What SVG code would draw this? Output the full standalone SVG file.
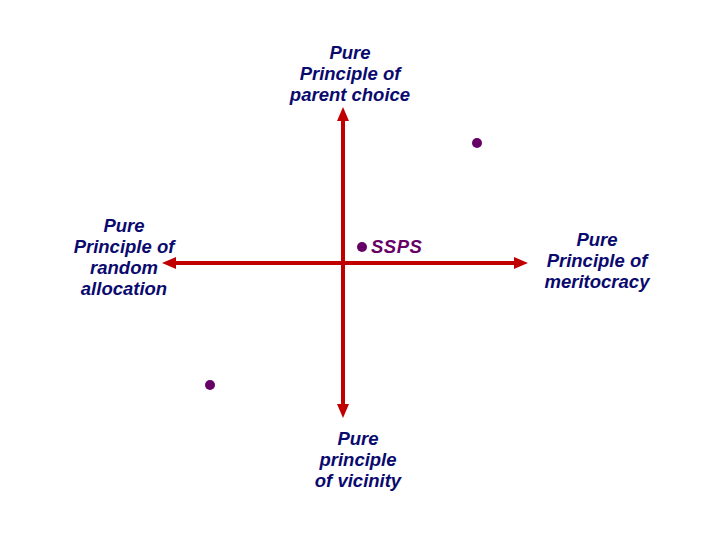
<svg xmlns="http://www.w3.org/2000/svg" width="720" height="540" viewBox="0 0 720 540">
<style>
.lbl{font-family:"Liberation Sans",Arial,sans-serif;font-size:18.5px;font-weight:bold;font-style:italic;fill:#0a0a6e;text-anchor:middle}
.ax{stroke:#c00000;stroke-width:4;fill:none}
.dot{fill:#660066}
</style>
<defs>
<marker id="ah" markerWidth="4" markerHeight="4" refX="1" refY="2" orient="auto" markerUnits="strokeWidth">
<path d="M0,0.5 L3.5,2 L0,3.5 Z" fill="#c00000"/>
</marker>
</defs>
<rect width="720" height="540" fill="#fff"/>
<g id="connectors">
<line class="ax" x1="343" y1="263" x2="343" y2="117" marker-end="url(#ah)"/>
<line class="ax" x1="343" y1="263" x2="343" y2="408" marker-end="url(#ah)"/>
<line class="ax" x1="343" y1="263" x2="518" y2="263" marker-end="url(#ah)"/>
<line class="ax" x1="343" y1="263" x2="172" y2="263" marker-end="url(#ah)"/>
</g>
<g id="top"><text class="lbl" x="350" y="59">Pure</text><text class="lbl" x="350" y="80">Principle of</text><text class="lbl" x="350" y="101">parent choice</text></g>
<g id="left"><text class="lbl" x="124" y="232">Pure</text><text class="lbl" x="124" y="253">Principle of</text><text class="lbl" x="124" y="274">random</text><text class="lbl" x="124" y="295">allocation</text></g>
<g id="right"><text class="lbl" x="597" y="246">Pure</text><text class="lbl" x="597" y="267">Principle of</text><text class="lbl" x="597" y="288">meritocracy</text></g>
<g id="bottom"><text class="lbl" x="358" y="445">Pure</text><text class="lbl" x="358" y="466">principle</text><text class="lbl" x="358" y="487">of vicinity</text></g>
<g id="sspsnode"><circle class="dot" cx="362" cy="247" r="5"/><text x="371" y="253" font-family="Liberation Sans,Arial,sans-serif" font-size="18.5" font-weight="bold" font-style="italic" fill="#660066" letter-spacing="0.5">SSPS</text></g>
<g id="dot1"><circle class="dot" cx="477" cy="143" r="5"/></g>
<g id="dot2"><circle class="dot" cx="210" cy="385" r="5"/></g>
</svg>
